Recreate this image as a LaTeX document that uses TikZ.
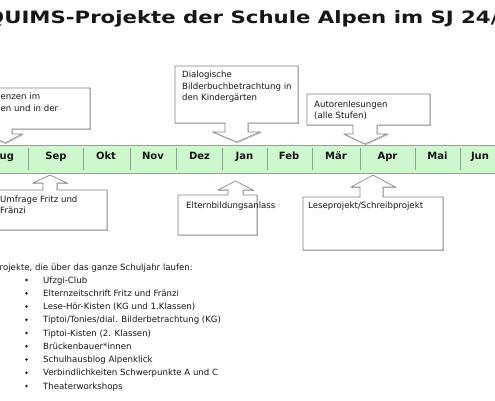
\documentclass[tikz,border=0pt]{standalone}
\usepackage{fontspec}
\setmainfont{DejaVu Sans}
\definecolor{barfill}{HTML}{CDF7CD}
\definecolor{barline}{HTML}{8FA68F}
\definecolor{sepline}{HTML}{8FA08F}
\definecolor{ink}{HTML}{161616}
\begin{document}
\begin{tikzpicture}[x=1pt,y=-1pt,
  txt/.style={anchor=base west, inner sep=0pt, font=\fontsize{8.6}{10.5}\selectfont, text=ink},
  mon/.style={anchor=base, inner sep=0pt, font=\fontsize{10}{12}\bfseries\selectfont, text=ink},
  callout/.style={draw=black!50, fill=white, line width=0.6pt, line join=miter},
  shade/.style={draw=black!35, line width=0.5pt, line join=miter},
  bullet/.style={fill=ink},
]
\useasboundingbox (0,0) rectangle (495,400);

% title
\node[anchor=base west, inner sep=0pt, font=\fontsize{17}{20}\bfseries\selectfont, text=ink] (title) at (-14,23.3)
  {\scalebox{1.25}[1]{QUIMS-Projekte der Schule Alpen im SJ 24/}};

% timeline bar
\fill[barfill] (-5,145) rectangle (500,173);
\draw[barline, line width=0.9pt] (-5,145) -- (500,145);
\draw[barline, line width=0.9pt] (-5,173) -- (500,173);
\foreach \x in {28.3,83.3,130,176.5,222,267,312,360,415,460}
  \draw[sepline, line width=0.6pt] (\x,148) -- (\x,170);

\node[mon] (mAug) at (3,159.5) {Aug};
\node[mon] (mSep) at (56,159.5) {Sep};
\node[mon] (mOkt) at (106,159.5) {Okt};
\node[mon] (mNov) at (153,159.5) {Nov};
\node[mon] (mDez) at (199.5,159.5) {Dez};
\node[mon] (mJan) at (244.5,159.5) {Jan};
\node[mon] (mFeb) at (289,159.5) {Feb};
\node[mon] (mMar) at (336,159.5) {Mär};
\node[mon] (mApr) at (387.5,159.5) {Apr};
\node[mon] (mMai) at (437.5,159.5) {Mai};
\node[mon] (mJun) at (480,159.5) {Jun};

% callouts
\foreach \s/\o in {shade/0.7,callout/0}{
\draw[\s, shift={(\o,\o)}] (-5,88) -- (90,88) -- (90,129) -- (12,129) -- (12,134) -- (22,134) -- (5,143)
  -- (-12,134) -- (-2,134) -- (-2,129) -- (-5,129) -- cycle;
\draw[\s, shift={(\o,\o)}] (175,66) -- (298,66) -- (298,123) -- (248,123) -- (248,132) -- (260,132) -- (236.5,142)
  -- (213,132) -- (225,132) -- (225,123) -- (175,123) -- cycle;
\draw[\s, shift={(\o,\o)}] (307,94) -- (430,94) -- (430,125) -- (377,125) -- (377,134) -- (387,134) -- (365,144)
  -- (344,134) -- (353,134) -- (353,125) -- (307,125) -- cycle;
\draw[\s, shift={(\o,\o)}] (-5,190) -- (43,190) -- (43,183) -- (33,183) -- (50,175) -- (67,183) -- (57,183)
  -- (57,190) -- (107,190) -- (107,230) -- (-5,230) -- cycle;
\draw[\s, shift={(\o,\o)}] (178,195) -- (228,195) -- (228,190) -- (218,190) -- (235.5,181) -- (253,190) -- (243,190)
  -- (243,195) -- (257,195) -- (257,235) -- (178,235) -- cycle;
\draw[\s, shift={(\o,\o)}] (303,197) -- (360,197) -- (360,187) -- (351,187) -- (373,175) -- (395,187) -- (383,187)
  -- (383,197) -- (443,197) -- (443,250) -- (303,250) -- cycle;
}

% callout texts
\node[txt] (c1a) at (0.5,99) {enzen im};
\node[txt] (c1b) at (0.5,111) {en und in der};
\node[txt] (c2a) at (182,77.5) {Dialogische};
\node[txt] (c2b) at (182,89) {Bilderbuchbetrachtung in};
\node[txt] (c2c) at (182,100.5) {den Kindergärten};
\node[txt] (c3a) at (314,107) {Autorenlesungen};
\node[txt] (c3b) at (314,118) {(alle Stufen)};
\node[txt] (c4a) at (0,202) {Umfrage Fritz und};
\node[txt] (c4b) at (0,213) {Fränzi};
\node[txt] (c5a) at (186,208) {Elternbildungsanlass};
\node[txt] (c6a) at (308,208) {Leseprojekt/Schreibprojekt};

% list
\node[txt] (lhead) at (-5.5,270) {Projekte, die über das ganze Schuljahr laufen:};
\foreach \t [count=\i from 0] in {Ufzgi-Club,Elternzeitschrift Fritz und Fränzi,Lese-Hör-Kisten (KG und 1.Klassen),
  Tiptoi/Tonies/dial. Bilderbetrachtung (KG),Tiptoi-Kisten (2. Klassen),Brückenbauer*innen,
  Schulhausblog Alpenklick,Verbindlichkeiten Schwerpunkte A und C,Theaterworkshops}{
  \node[txt] (item\i) at (43,283+13.25*\i) {\t};
  \fill[bullet] (26.5,280+13.25*\i) circle (1.3);
}
\end{tikzpicture}
\end{document}
